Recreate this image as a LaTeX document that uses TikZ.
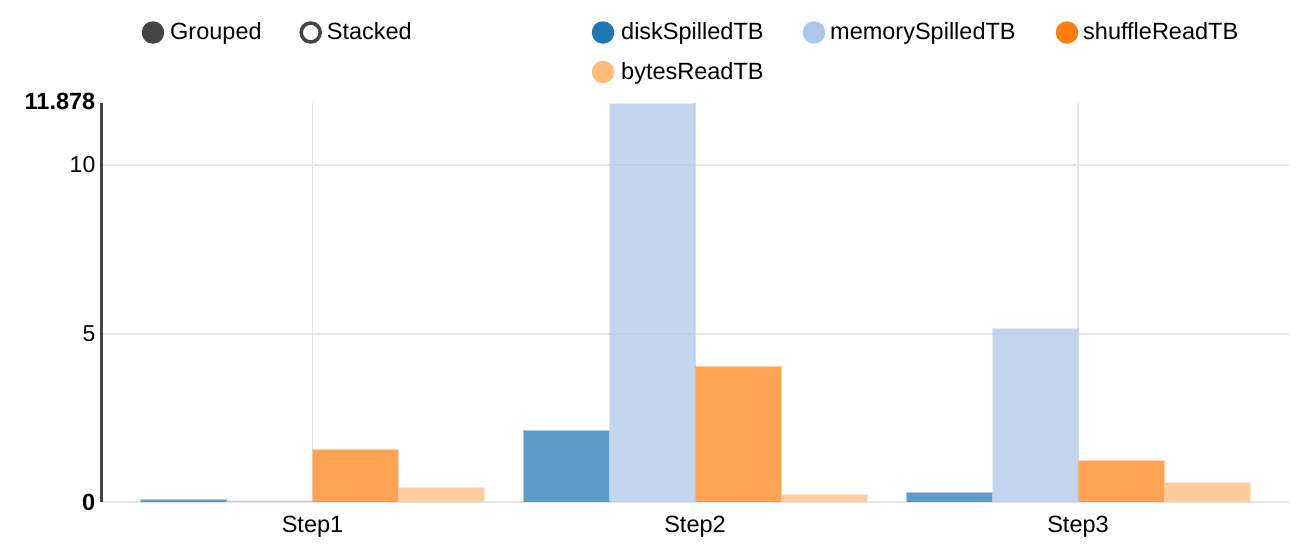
\documentclass[tikz,border=0pt]{standalone}
\usepackage{fontspec}
\setmainfont{Liberation Sans}
\definecolor{cDisk}{HTML}{1F77B4}
\definecolor{cMem}{HTML}{AEC7E8}
\definecolor{cShuf}{HTML}{FF7F0E}
\definecolor{cBytes}{HTML}{FFBB78}
\definecolor{gridc}{HTML}{E5E5E5}
\definecolor{axisc}{HTML}{444444}
\newcommand\mybar[3]{%
  \path[barfill,fill=#1] (#2+0.5,502) rectangle ({#2+85.5},{#3+0.5});%
  \path[baredge,draw=#1] (#2,502) -- (#2,#3) -- ({#2+86},#3) -- ({#2+86},502);}
\begin{document}
\begin{tikzpicture}[x=1pt,y=-1pt,
  barfill/.style={fill opacity=0.72},
  baredge/.style={draw opacity=0.35,line width=1pt},
  gridline/.style={draw=gridc,line width=1.5pt},
  txt/.style={font=\fontsize{23.5}{28}\selectfont,inner sep=0pt,text=black},
  legtxt/.style={txt,anchor=base west},
  ticklbl/.style={font=\fontsize{23}{28}\selectfont,inner sep=0pt,anchor=base east},
  boldlbl/.style={ticklbl,font=\fontsize{23.5}{28}\selectfont\bfseries},
  legdot/.style={circle,inner sep=0pt,minimum size=22.5pt}]
\useasboundingbox (0,0) rectangle (1310,546);
\fill[white] (0,0) rectangle (1310,546);
% grid
\draw[gridline] (102,165) -- (1289,165);
\draw[gridline] (102,334) -- (1289,334);
\draw[gridline] (102,502) -- (1289,502);
\draw[gridline] (312.5,103) -- (312.5,502);
\draw[gridline] (695,103) -- (695,502);
\draw[gridline] (1078,103) -- (1078,502);
% bars
\mybar{cDisk}{140}{499.7}
\mybar{cMem}{226}{500.3}
\mybar{cShuf}{312}{449.3}
\mybar{cBytes}{398}{487}
\mybar{cDisk}{523}{430}
\mybar{cMem}{609}{103}
\mybar{cShuf}{695}{366}
\mybar{cBytes}{781}{494.3}
\mybar{cDisk}{906}{492.3}
\mybar{cMem}{992}{328.3}
\mybar{cShuf}{1078}{460.3}
\mybar{cBytes}{1164}{482}
% y axis
\draw[axisc,line width=2.5pt] (101.7,103) -- (101.7,502);
\node[boldlbl] (tmax) at (95.5,109) {11.878};
\node[ticklbl] (t10) at (95.5,172.5) {10};
\node[ticklbl] (t5) at (95.5,341.5) {5};
\node[boldlbl] (t0) at (95.5,510) {0};
% x labels
\node[txt,anchor=base] (s1) at (312.5,532.7) {Step1};
\node[txt,anchor=base] (s2) at (695,532.7) {Step2};
\node[txt,anchor=base] (s3) at (1078,532.7) {Step3};
% controls
\node[legdot,fill=axisc] (cg) at (153,32.5) {};
\node[legtxt] (lg) at (170,39.5) {Grouped};
\node[legdot,draw=axisc,line width=3.5pt,minimum size=19pt,fill=white] (cs) at (310.7,32.5) {};
\node[legtxt] (ls) at (326.7,39.5) {Stacked};
% series legend
\node[legdot,fill=cDisk] (d1) at (603,32.5) {};
\node[legtxt] (l1) at (621,39.5) {diskSpilledTB};
\node[legdot,fill=cMem] (d2) at (814,32.5) {};
\node[legtxt] (l2) at (830,39.5) {memorySpilledTB};
\node[legdot,fill=cShuf] (d3) at (1067,32.5) {};
\node[legtxt] (l3) at (1083,39.5) {shuffleReadTB};
\node[legdot,fill=cBytes] (d4) at (603,72) {};
\node[legtxt] (l4) at (621,79) {bytesReadTB};
\end{tikzpicture}
\end{document}
